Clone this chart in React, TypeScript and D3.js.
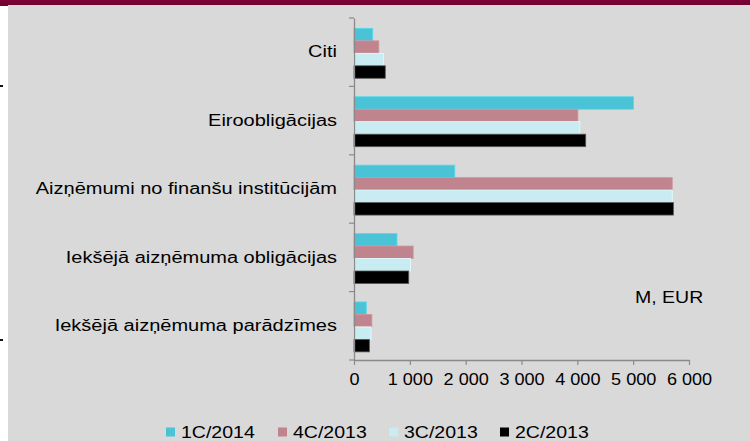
import React from "react";
import * as d3 from "d3";

const categories = [
  "Citi",
  "Eiroobligācijas",
  "Aizņēmumi no finanšu institūcijām",
  "Iekšējā aizņēmuma obligācijas",
  "Iekšējā aizņēmuma parādzīmes",
];
const seriesNames = ["1C/2014", "4C/2013", "3C/2013", "2C/2013"];
const s1C2014 = [335, 5005, 1805, 770, 220];
const s4C2013 = [445, 4010, 5700, 1060, 320];
const s3C2013 = [525, 4045, 5700, 1010, 305];
const s2C2013 = [560, 4150, 5720, 980, 275];
const xTicks = [0, 1000, 2000, 3000, 4000, 5000, 6000];
const colors = ["#4bc3d6", "#c0848e", "#c9ebf2", "#000000"];

const fmt = (v: number) => d3.format(",")(v).replace(/,/g, " ");

export default function App() {
  const svgRef = React.useRef<SVGSVGElement>(null);
  const width = 750;
  const height = 441;
  const margin = { top: 18, left: 354, right: 61, bottom: 81 };
  const stretch = 1.22; // text in the picture is widened horizontally
  const labelStretch = 1.25;

  React.useEffect(() => {
    const svg = d3.select(svgRef.current);
    svg.selectAll("*").remove();

    // background
    svg.append("rect").attr("width", width).attr("height", height).attr("fill", "#ffffff");
    svg.append("rect").attr("x", 8).attr("y", 0).attr("width", width - 8).attr("height", height).attr("fill", "#d9d9d9");
    svg.append("rect").attr("x", 0).attr("y", 0).attr("width", width).attr("height", 5).attr("fill", "#780032");
    svg.append("rect").attr("x", 0).attr("y", 0).attr("width", 8).attr("height", 6).attr("fill", "#780032");
    [85, 339].forEach((yy) =>
      svg.append("rect").attr("x", 0).attr("y", yy).attr("width", 3).attr("height", 2).attr("fill", "#111")
    );

    const x = d3.scaleLinear().domain([0, 6000]).range([margin.left, width - margin.right]);
    const y = d3
      .scaleBand<string>()
      .domain(categories)
      .range([margin.top, height - margin.bottom]);
    const inner = d3
      .scaleBand<string>()
      .domain(seriesNames)
      .range([0, y.bandwidth()])
      .paddingOuter(0.74)
      .align(0.56);

    const series = [s1C2014, s4C2013, s3C2013, s2C2013];
    const g = svg.append("g");
    series.forEach((vals, si) => {
      g.selectAll(null)
        .data(vals)
        .enter()
        .append("rect")
        .attr("x", x(0))
        .attr("y", (_, i) => (y(categories[i]) ?? 0) + (inner(seriesNames[si]) ?? 0))
        .attr("width", (d) => x(d) - x(0))
        .attr("height", inner.bandwidth())
        .attr("fill", colors[si])
        .attr("stroke", si === 3 ? "#555" : d3.color(colors[si])!.brighter(0.3).toString())
        .attr("stroke-width", 0.8);
    });

    const font = "'Liberation Sans', Arial, sans-serif";

    // y axis
    const yAxis = svg
      .append("g")
      .attr("transform", `translate(${margin.left},0)`)
      .call(d3.axisLeft(y).tickSize(0).tickPadding(17));
    yAxis.select(".domain").attr("stroke", "#8a8a8a").attr("stroke-width", 1.3);
    yAxis
      .selectAll("text")
      .attr("font-family", font)
      .attr("font-size", 16)
      .attr("fill", "#000")
      .attr("x", -17 / labelStretch)
      .attr("transform", `scale(${labelStretch},1)`);
    const bounds = [margin.top, ...categories.map((c) => (y(c) ?? 0) + y.bandwidth())];
    svg
      .append("g")
      .selectAll("line")
      .data(bounds)
      .enter()
      .append("line")
      .attr("x1", margin.left - 5)
      .attr("x2", margin.left)
      .attr("y1", (d) => d)
      .attr("y2", (d) => d)
      .attr("stroke", "#8a8a8a")
      .attr("stroke-width", 1.2);

    // x axis
    const xAxis = svg
      .append("g")
      .attr("transform", `translate(0,${height - margin.bottom})`)
      .call(
        d3
          .axisBottom(x)
          .tickValues(xTicks)
          .tickSize(5)
          .tickSizeOuter(0)
          .tickPadding(9)
          .tickFormat((d) => fmt(d as number))
      );
    xAxis.select(".domain").attr("stroke", "#8a8a8a").attr("stroke-width", 1.3);
    xAxis.selectAll("line").attr("stroke", "#8a8a8a").attr("stroke-width", 1.2);
    xAxis
      .selectAll("text")
      .attr("font-family", font)
      .attr("font-size", 16)
      .attr("fill", "#000")
      .attr("transform", "scale(1.13,1)");

    // unit label
    svg
      .append("text")
      .attr("transform", `translate(635,303) scale(${stretch},1)`)
      .attr("font-family", font)
      .attr("font-size", 16)
      .text("M, EUR");

    // legend
    const legendX = [166, 278, 389, 500];
    const lg = svg
      .append("g")
      .selectAll("g")
      .data(seriesNames)
      .enter()
      .append("g")
      .attr("transform", (_, i) => `translate(${legendX[i]},432)`);
    lg.append("rect")
      .attr("x", 0)
      .attr("y", -4.5)
      .attr("width", 9)
      .attr("height", 9)
      .attr("fill", (_, i) => colors[i]);
    lg.append("text")
      .attr("transform", `translate(15,6) scale(${stretch},1)`)
      .attr("font-family", font)
      .attr("font-size", 16)
      .text((d) => d);
  }, []);

  return (
    <svg
      ref={svgRef}
      width={width}
      height={height}
      style={{ position: "absolute", left: 0, top: 0 }}
    />
  );
}
